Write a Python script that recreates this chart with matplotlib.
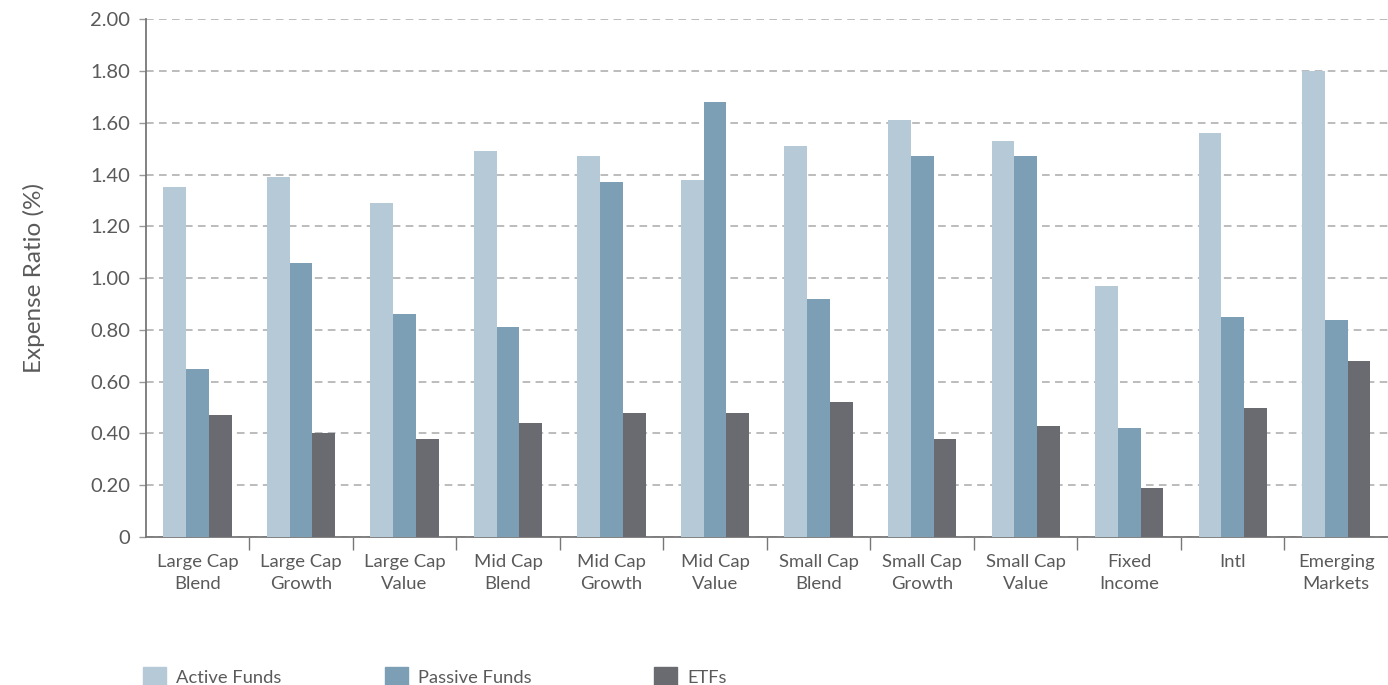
import numpy as np
import matplotlib
matplotlib.use('Agg')
import matplotlib.pyplot as plt
from matplotlib.patches import Patch

categories = ['Large Cap\nBlend', 'Large Cap\nGrowth', 'Large Cap\nValue',
              'Mid Cap\nBlend', 'Mid Cap\nGrowth', 'Mid Cap\nValue',
              'Small Cap\nBlend', 'Small Cap\nGrowth', 'Small Cap\nValue',
              'Fixed\nIncome', 'Intl', 'Emerging\nMarkets']
active = [1.35, 1.39, 1.29, 1.49, 1.47, 1.38, 1.51, 1.61, 1.53, 0.97, 1.56, 1.80]
passive = [0.65, 1.06, 0.86, 0.81, 1.37, 1.68, 0.92, 1.47, 1.47, 0.42, 0.85, 0.84]
etfs = [0.47, 0.40, 0.38, 0.44, 0.48, 0.48, 0.52, 0.38, 0.43, 0.19, 0.50, 0.68]
series_names = ['Active Funds', 'Passive Funds', 'ETFs']
colors = ['#b6c9d6', '#7c9fb5', '#6a6b70']
yticks = [0, 0.2, 0.4, 0.6, 0.8, 1.0, 1.2, 1.4, 1.6, 1.8, 2.0]

plt.rcParams['font.family'] = ['Lato', 'DejaVu Sans']
txt = '#5a5a5a'

fig = plt.figure(figsize=(13.88, 6.85), dpi=100)
ax = fig.add_axes([0.105, 0.216, 0.895, 0.756])

x = np.arange(len(categories))
w = 0.22
for i, (vals, name, c) in enumerate(zip([active, passive, etfs], series_names, colors)):
    ax.bar(x + (i - 1) * w, vals, width=w, color=c, label=name, zorder=3)

ax.set_xlim(-0.5, len(categories) - 0.5)
ax.set_ylim(0, 2.0)
ax.set_yticks(yticks)
ax.set_yticklabels(['0'] + ['%.2f' % v for v in yticks[1:]], fontsize=14.5, color=txt)
ax.set_xticks(x)
ax.set_xticklabels(categories, fontsize=13.3, color=txt, linespacing=1.45)
ax.set_xticks(x[:-1] + 0.5, minor=True)
ax.tick_params(axis='x', which='major', length=0, pad=12)
ax.tick_params(axis='x', which='minor', length=9, width=1, color='#777')
ax.tick_params(axis='y', length=5, width=1, color='#999', pad=6)

ax.grid(axis='y', color='#aaaaaa', linestyle=(0, (5, 3.5)), linewidth=1.1, zorder=0)
for s in ['top', 'right']:
    ax.spines[s].set_visible(False)
for s in ['left', 'bottom']:
    ax.spines[s].set_color('#777777')
    ax.spines[s].set_linewidth(1.3)

ax.set_ylabel('Expense Ratio (%)', fontsize=17.5, color=txt, labelpad=33)

# legend entries sit at uneven spacing in the original, so one legend each
leg_x = [143 / 1388, 385 / 1388, 654 / 1388]
for lx, name, c in zip(leg_x, series_names, colors):
    lg = fig.legend([Patch(color=c)], [name], loc='lower left', bbox_to_anchor=(lx, -0.003),
                    frameon=False, fontsize=13.2, labelcolor=txt, borderpad=0, borderaxespad=0,
                    handlelength=1.25, handleheight=1.3, handletextpad=0.55)

fig.savefig('out.png', dpi=100)
